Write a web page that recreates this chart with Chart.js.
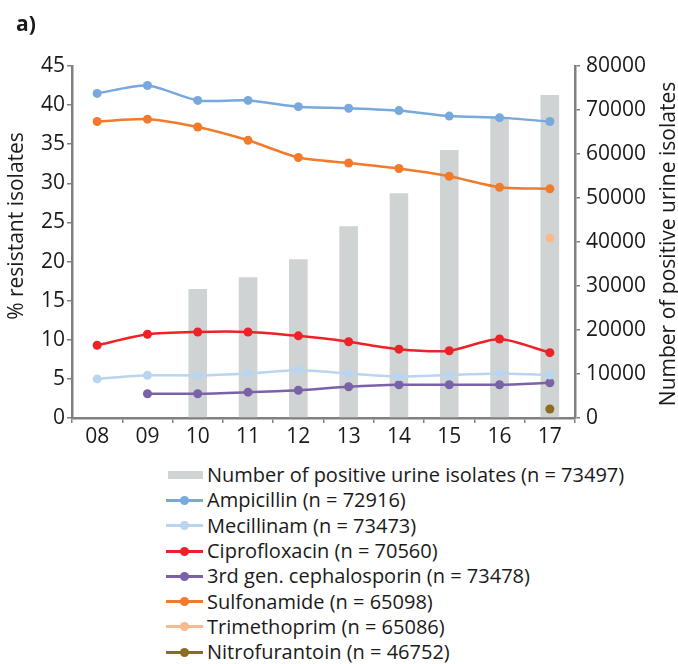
<!DOCTYPE html>
<html><head><meta charset="utf-8">
<script src="https://cdn.jsdelivr.net/npm/chart.js@4.4.1/dist/chart.umd.min.js"></script>
<style>
html,body{margin:0;padding:0;background:#fff;}
#wrap{position:relative;width:678px;height:664px;overflow:hidden;font-family:"Open Sans",sans-serif;}
#c{position:absolute;left:0;top:0;}
#legend{position:absolute;left:166px;top:462px;}
.row{height:25.3px;display:flex;align-items:center;font-size:20px;color:#1a1a1a;white-space:nowrap;}
.sym{width:37px;height:14px;position:relative;margin-right:4px;flex:none;}
.sym .ln{position:absolute;left:0;right:0;top:6px;height:3px;}
.sym .bx{position:absolute;left:2px;right:0;top:3px;height:8px;}
.sym .dt{position:absolute;left:14px;top:3px;width:9px;height:9px;border-radius:50%;}
</style></head>
<body><div id="wrap"><canvas id="c" width="678" height="450"></canvas><div id="legend"></div></div>
<script>
const categories = ['08','09','10','11','12','13','14','15','16','17'];
const positiveIsolates = [null,null,29300,32000,36100,43600,51100,60900,68200,73400];
const ampicillin = [41.5,42.5,40.6,40.6,39.8,39.6,39.3,38.6,38.4,37.9];
const mecillinam = [5.0,5.45,5.45,5.7,6.1,5.7,5.3,5.5,5.7,5.5];
const ciprofloxacin = [9.3,10.7,11.0,11.0,10.5,9.75,8.8,8.6,10.1,8.35];
const cephalosporin3 = [null,3.1,3.1,3.3,3.55,4.0,4.25,4.25,4.25,4.5];
const sulfonamide = [37.9,38.2,37.2,35.5,33.3,32.6,31.9,30.9,29.5,29.3];
const trimethoprim = [null,null,null,null,null,null,null,null,null,23.0];
const nitrofurantoin = [null,null,null,null,null,null,null,null,null,1.15];
const seriesLabels = ['Number of positive urine isolates (n = 73497)','Ampicillin (n = 72916)','Mecillinam (n = 73473)','Ciprofloxacin (n = 70560)','3rd gen. cephalosporin (n = 73478)','Sulfonamide (n = 65098)','Trimethoprim (n = 65086)','Nitrofurantoin (n = 46752)'];
const leftTitle = '% resistant isolates';
const rightTitle = 'Number of positive urine isolates';
const panelLabel = 'a)';

const FONT = '"Open Sans", sans-serif';
const TXT = '#1a1a1a';
const AX = '#808080';
const colors = ['#d0d3d3','#78a8dc','#b9d5ef','#ec2227','#7a62a8','#f27a2b','#f8b98e','#8c6c22'];

function line(label, data, color){
  return {type:'line', label, data, yAxisID:'y', borderColor:color, backgroundColor:color,
    pointBackgroundColor:color, pointBorderWidth:0, pointRadius:4.5, borderWidth:2.5,
    tension:0.25, spanGaps:false, order:1};
}
const datasets = [
  {type:'bar', label:seriesLabels[0], data:positiveIsolates, yAxisID:'y2', backgroundColor:colors[0],
   barPercentage:0.37, categoryPercentage:1, order:10},
  line(seriesLabels[1], ampicillin, colors[1]),
  line(seriesLabels[2], mecillinam, colors[2]),
  line(seriesLabels[3], ciprofloxacin, colors[3]),
  line(seriesLabels[4], cephalosporin3, colors[4]),
  line(seriesLabels[5], sulfonamide, colors[5]),
  line(seriesLabels[6], trimethoprim, colors[6]),
  line(seriesLabels[7], nitrofurantoin, colors[7]),
];

const titles = {
  id:'titles',
  afterDraw(chart){
    const ctx = chart.ctx;
    ctx.save();
    ctx.fillStyle = TXT;
    ctx.font = 'bold 21px ' + FONT;
    ctx.textBaseline = 'alphabetic';
    ctx.textAlign = 'left';
    ctx.fillText(panelLabel, 16, 31);
    ctx.font = '21px ' + FONT;
    ctx.textAlign = 'center';
    ctx.textBaseline = 'middle';
    ctx.translate(17, 226); ctx.rotate(-Math.PI/2); ctx.fillText(leftTitle, 0, 0);
    ctx.setTransform(1,0,0,1,0,0);
    ctx.translate(669, 244); ctx.rotate(-Math.PI/2); ctx.fillText(rightTitle, 0, 0);
    ctx.restore();
  }
};

const tickFont = {family:FONT, size:21};
const chart = new Chart(document.getElementById('c'), {
  type:'bar',
  data:{labels:categories, datasets},
  options:{
    responsive:false, animation:false,
    layout:{padding:{top:66,left:0,right:0,bottom:0}},
    plugins:{legend:{display:false}, tooltip:{enabled:false}},
    scales:{
      x:{offset:true, grid:{offset:true, drawOnChartArea:false, tickLength:5, color:AX, lineWidth:1.5},
         border:{color:AX, width:2.5}, ticks:{font:tickFont, color:TXT, padding:1},
         afterFit(s){ s.height = 32; }},
      y:{position:'left', min:0, max:45, grid:{drawOnChartArea:false, tickLength:5, color:AX, lineWidth:1.5},
         border:{color:AX, width:2.5}, ticks:{stepSize:5, font:tickFont, color:TXT, padding:2},
         afterFit(s){ s.width = 72; }},
      y2:{position:'right', min:0, max:80000, grid:{drawOnChartArea:false, tickLength:5, color:AX, lineWidth:1.5},
         border:{color:AX, width:2.5}, ticks:{stepSize:10000, font:tickFont, color:TXT, padding:6,
         callback:(v) => String(v)},
         afterFit(s){ s.width = 103; }}
    }
  },
  plugins:[titles]
});

const lg = document.getElementById('legend');
chart.data.datasets.forEach((ds, i) => {
  const row = document.createElement('div'); row.className = 'row';
  const sym = document.createElement('div'); sym.className = 'sym';
  if (ds.type === 'bar') {
    sym.innerHTML = '<div class="bx" style="background:' + ds.backgroundColor + '"></div>';
  } else {
    sym.innerHTML = '<div class="ln" style="background:' + ds.borderColor + '"></div><div class="dt" style="background:' + ds.borderColor + '"></div>';
  }
  const t = document.createElement('span'); t.textContent = ds.label;
  row.appendChild(sym); row.appendChild(t); lg.appendChild(row);
});
</script></body></html>
